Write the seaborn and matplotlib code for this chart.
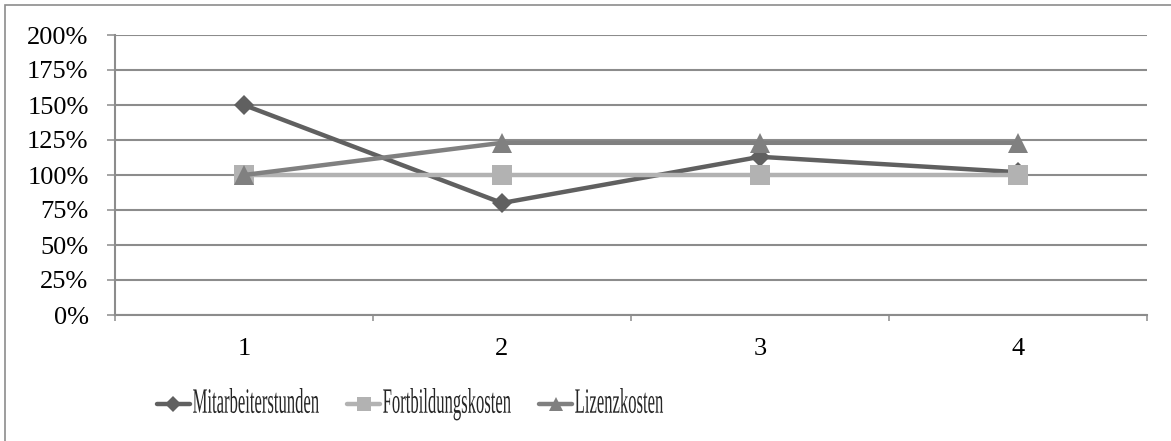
import numpy as np
import pandas as pd
import matplotlib
matplotlib.use("Agg")
import matplotlib.pyplot as plt
import seaborn as sns
from matplotlib.ticker import PercentFormatter
from matplotlib.transforms import Affine2D, Bbox
from matplotlib import patheffects
from matplotlib.offsetbox import TextArea
from matplotlib.patches import Rectangle

# ---- data ----
categories = ["1", "2", "3", "4"]
mitarbeiterstunden = [150, 80, 113, 102]
fortbildungskosten = [100, 100, 100, 100]
lizenzkosten = [100, 123, 123, 123]
series_names = ["Mitarbeiterstunden", "Fortbildungskosten", "Lizenzkosten"]
y_ticks = [0, 25, 50, 75, 100, 125, 150, 175, 200]

colors = ["#606060", "#b2b2b2", "#808080"]
markers = ["D", "s", "^"]
msizes = [10.5, 14, 14]
grid_color = "#8c8c8c"

sns.set_theme(style="white")
plt.rcParams["font.family"] = ["Liberation Serif", "DejaVu Serif"]

W, H = 1171, 441
DPI = 100
fig = plt.figure(figsize=(W / DPI, H / DPI), dpi=DPI)
ax = fig.add_axes([115 / W, 1 - 315 / H, (1147 - 115) / W, (315 - 35) / H])

# outer chart border (top & left visible)
fig.add_artist(Rectangle((5 / W, -0.05), 1.2, 1 - 5 / H + 0.05,
                         transform=fig.transFigure, fill=False,
                         edgecolor=grid_color, lw=1.2))

df = pd.DataFrame({
    "cat": categories * 3,
    "value": mitarbeiterstunden + fortbildungskosten + lizenzkosten,
    "series": np.repeat(series_names, len(categories)),
})

for i, name in enumerate(series_names):
    sub = df[df["series"] == name]
    sns.lineplot(data=sub, x="cat", y="value", ax=ax, color=colors[i],
                 marker=markers[i], markersize=msizes[i], lw=3.2,
                 markeredgewidth=0, markeredgecolor=colors[i],
                 label=name, zorder=3 + i, sort=False)

ax.set_xlim(-0.5, 3.5)
ax.set_ylim(0, 200)
ax.set_yticks(y_ticks)
ax.yaxis.set_major_formatter(PercentFormatter(100, decimals=0))
ax.set_xticks(np.arange(-0.5, 4, 1), minor=True)
ax.set_xlabel("")
ax.set_ylabel("")

ax.yaxis.grid(True, color=grid_color, lw=1.5)
ax.xaxis.grid(False)
ax.set_axisbelow(True)
for s in ["top", "right"]:
    ax.spines[s].set_visible(False)
for s in ["left", "bottom"]:
    ax.spines[s].set_color(grid_color)
    ax.spines[s].set_linewidth(1.5)

ax.tick_params(axis="y", which="major", length=6, width=1.1, color=grid_color,
               pad=13, labelsize=19, labelcolor="black", left=True)
ax.tick_params(axis="x", which="major", length=0, pad=16.5, labelsize=19,
               labelcolor="black")
ax.tick_params(axis="x", which="minor", length=4, width=1.1, color=grid_color,
               bottom=True)


class Stretch(patheffects.AbstractPathEffect):
    def __init__(self, sx, sy):
        super().__init__()
        self.sx = sx
        self.sy = sy

    def draw_path(self, renderer, gc, tpath, affine, rgbFace=None):
        renderer.draw_path(gc, tpath,
                           Affine2D().scale(self.sx, self.sy) + affine,
                           rgbFace)


SX = 0.63
SY = 1.35
leg = ax.legend(loc="center left", bbox_to_anchor=(157 / W, 1 - 406 / H),
                bbox_transform=fig.transFigure, ncol=3, frameon=False,
                handlelength=1.25, handletextpad=0.1, columnspacing=1.05,
                borderpad=0, borderaxespad=0, fontsize=19, markerscale=0.75)
for t in leg.get_texts():
    t.set_path_effects([Stretch(SX, SY)])


def patch(box):
    for c in box.get_children():
        if isinstance(c, TextArea):
            orig = c.get_bbox

            def nb(renderer, orig=orig):
                b = orig(renderer)
                return Bbox.from_bounds(b.x0, b.y0, b.width * SX, b.height)
            c.get_bbox = nb
        elif hasattr(c, "get_children"):
            try:
                patch(c)
            except Exception:
                pass


patch(leg._legend_box)

fig.savefig("out.png", dpi=DPI, facecolor="white")
